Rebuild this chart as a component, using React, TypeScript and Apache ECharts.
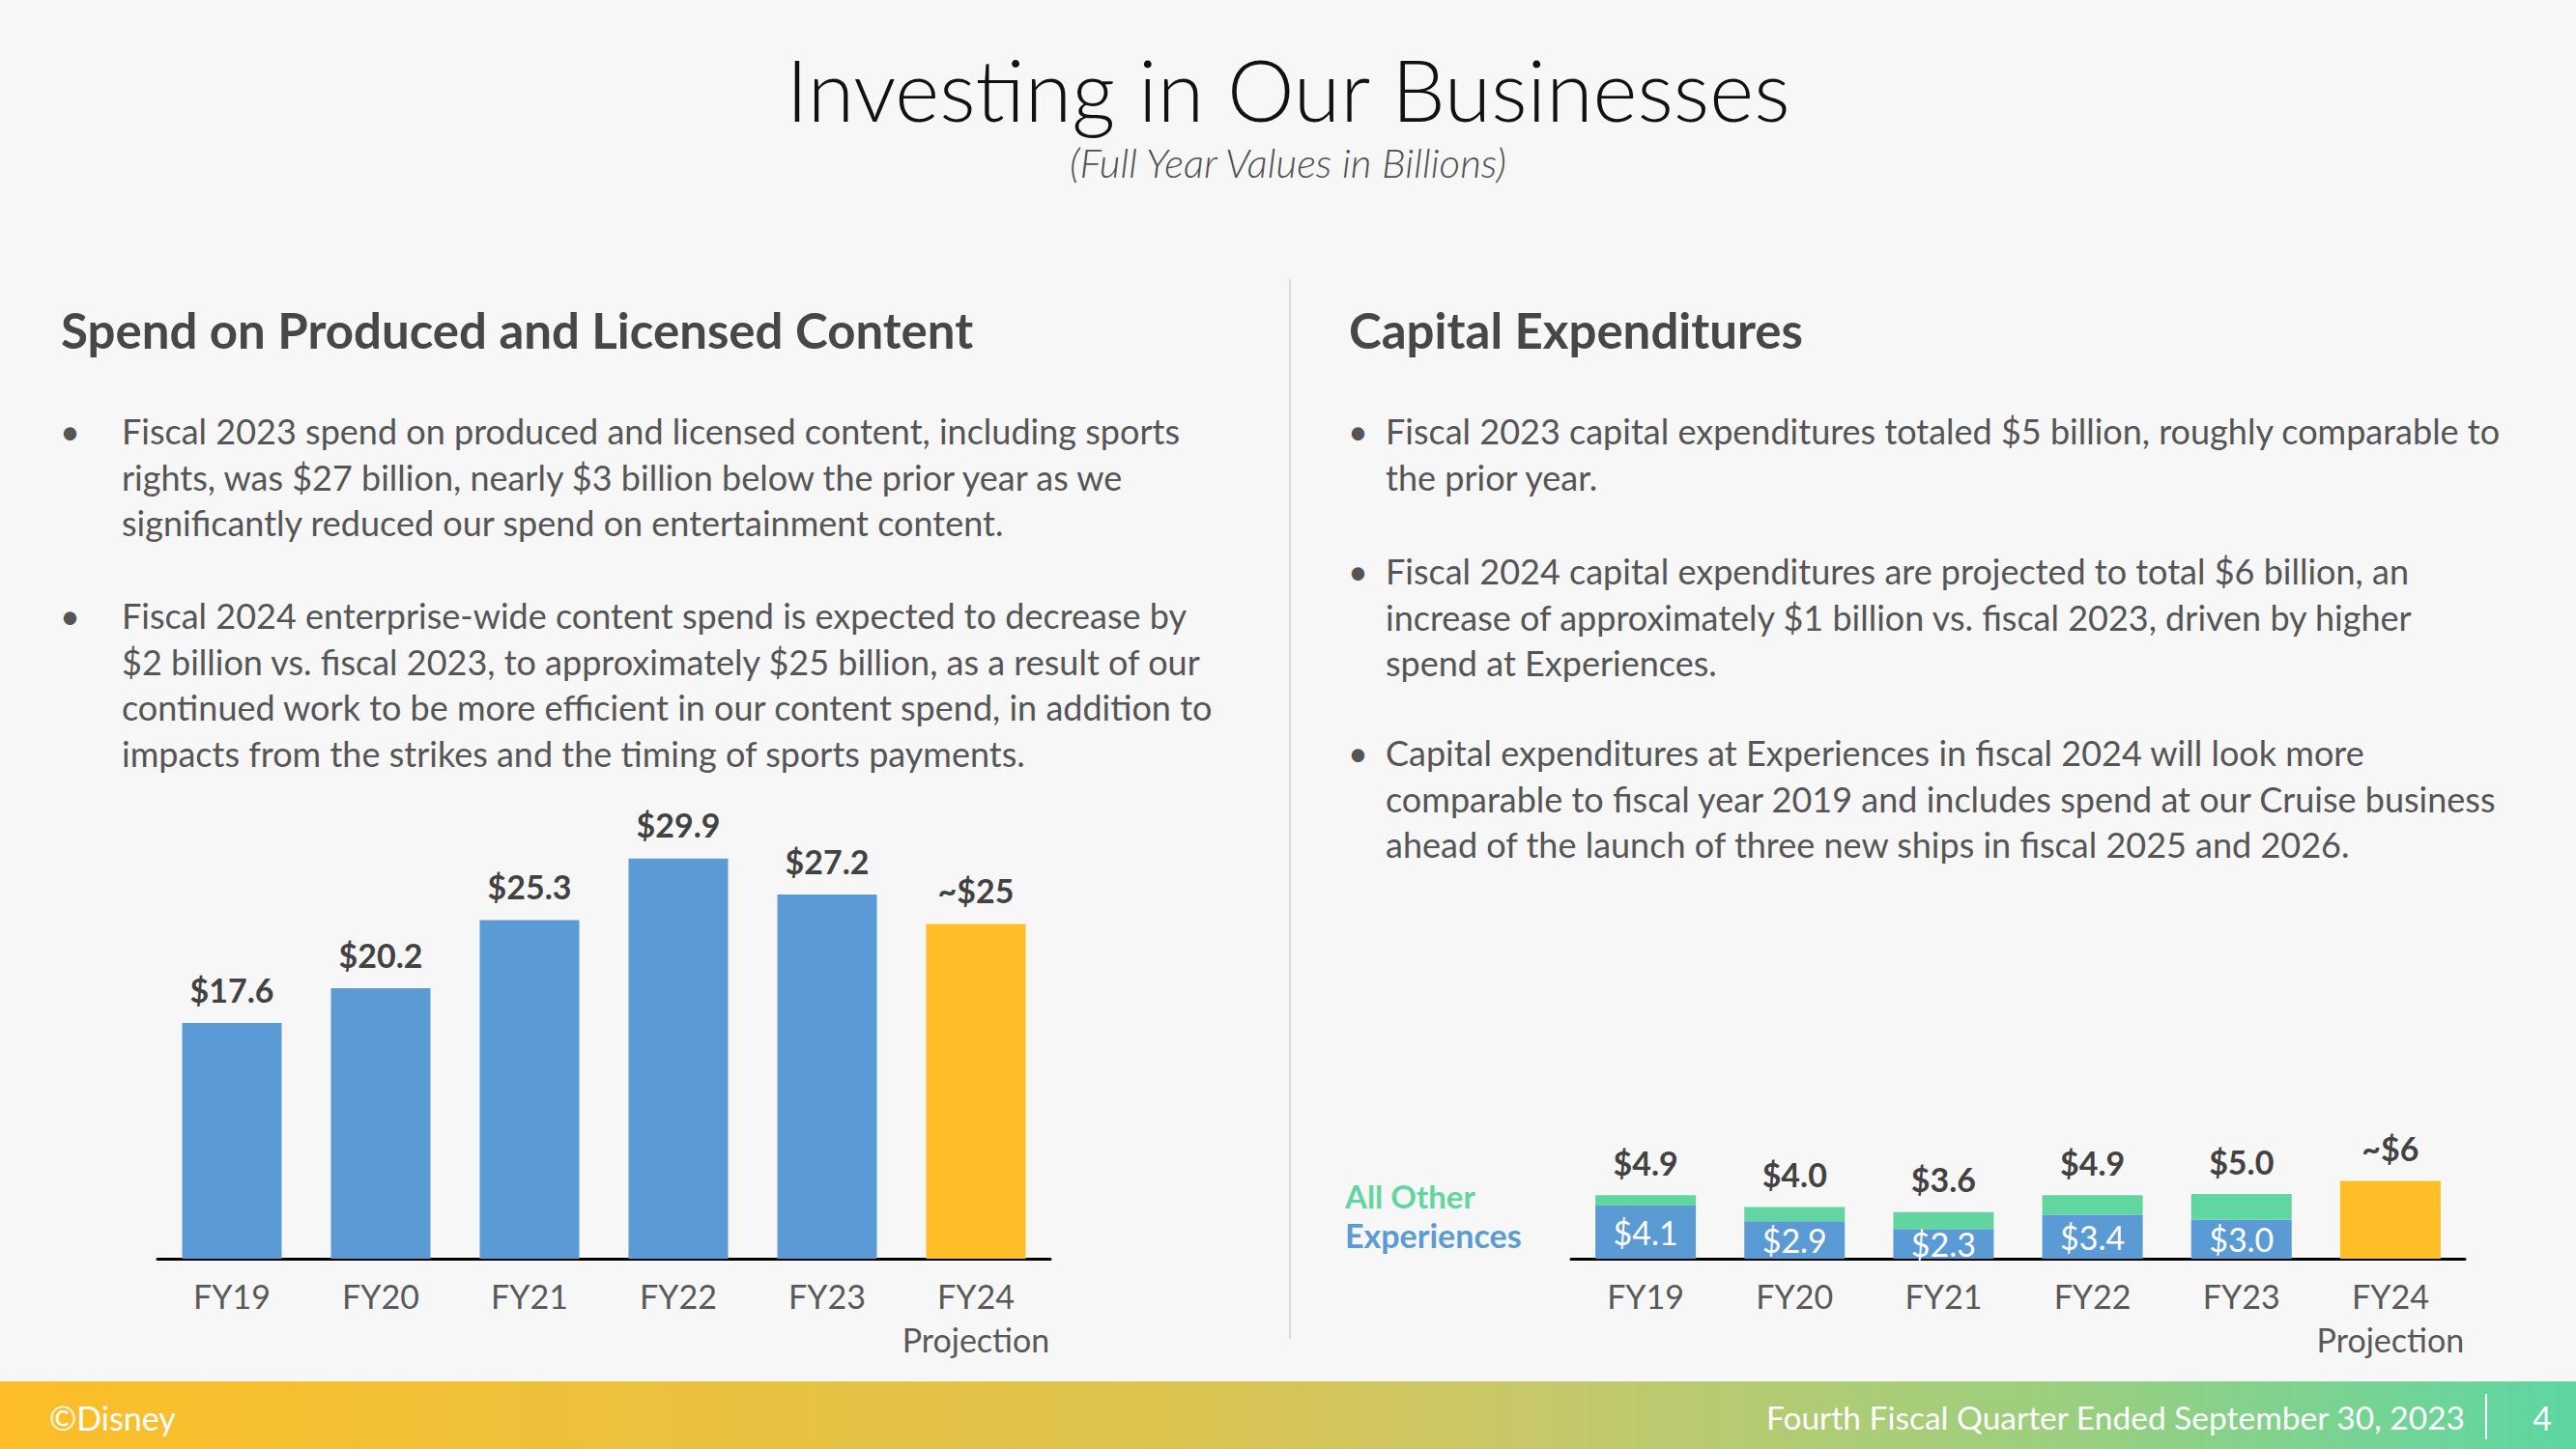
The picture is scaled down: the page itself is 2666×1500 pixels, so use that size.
import React, { useEffect, useRef } from "react";
import * as echarts from "echarts";

// ---------- data ----------
const categories = ["FY19", "FY20", "FY21", "FY22", "FY23", "FY24"];
const projectionCategory = "FY24";
const projectionNote = "Projection";

const contentSpend = [17.6, 20.2, 25.3, 29.9, 27.2, 25];
const contentLabels = ["$17.6", "$20.2", "$25.3", "$29.9", "$27.2", "~$25"];

const capexExperiences = [4.1, 2.9, 2.3, 3.4, 3.0, null];
const capexAllOther = [0.8, 1.1, 1.3, 1.5, 2.0, null];
const capexTotalLabels = ["$4.9", "$4.0", "$3.6", "$4.9", "$5.0", ""];
const capexProjection = [null, null, null, null, null, 6];
const capexProjectionLabel = "~$6";

const title = "Investing in Our Businesses";
const subtitle = "(Full Year Values in Billions)";
const leftHeading = "Spend on Produced and Licensed Content";
const rightHeading = "Capital Expenditures";
const leftBullets = [
  [
    "Fiscal 2023 spend on produced and licensed content, including sports",
    "rights, was $27 billion, nearly $3 billion below the prior year as we",
    "significantly reduced our spend on entertainment content.",
  ],
  [
    "Fiscal 2024 enterprise-wide content spend is expected to decrease by",
    "$2 billion vs. fiscal 2023, to approximately $25 billion, as a result of our",
    "continued work to be more efficient in our content spend, in addition to",
    "impacts from the strikes and the timing of sports payments.",
  ],
];
const rightBullets = [
  [
    "Fiscal 2023 capital expenditures totaled $5 billion, roughly comparable to",
    "the prior year.",
  ],
  [
    "Fiscal 2024 capital expenditures are projected to total $6 billion, an",
    "increase of approximately $1 billion vs. fiscal 2023, driven by higher",
    "spend at Experiences.",
  ],
  [
    "Capital expenditures at Experiences in fiscal 2024 will look more",
    "comparable to fiscal year 2019 and includes spend at our Cruise business",
    "ahead of the launch of three new ships in fiscal 2025 and 2026.",
  ],
];
const legendAllOther = "All Other";
const legendExperiences = "Experiences";
const footerLeft = "©Disney";
const footerRight = "Fourth Fiscal Quarter Ended September 30, 2023";
const pageNumber = "4";

// ---------- styles ----------
const FONT = "Lato, 'Open Sans', sans-serif";
const BLUE = "#5B9BD5";
const YELLOW = "#FDBE27";
const GREEN = "#62D6A0";
const TEXT = "#555555";
const DARK = "#424242";

export default function App() {
  const ref = useRef<HTMLDivElement>(null);

  useEffect(() => {
    document.body.style.margin = "0";
    if (!ref.current) return;
    const chart = echarts.init(ref.current, undefined, { renderer: "svg" });

    const lineH = 47.5;
    const bulletTexts: any[] = [];
    const addBullets = (groups: string[][], starts: number[], bx: number, tx: number) => {
      groups.forEach((lines, i) => {
        bulletTexts.push({
          type: "text",
          style: {
            x: bx,
            y: starts[i],
            text: "•",
            font: `36px ${FONT}`,
            fill: TEXT,
            verticalAlign: "middle",
          },
        });
        bulletTexts.push({
          type: "text",
          style: {
            x: tx,
            y: starts[i] - lineH / 2,
            text: lines.join("\n"),
            font: `36px ${FONT}`,
            lineHeight: lineH,
            fill: TEXT,
            verticalAlign: "top",
          },
        });
      });
    };
    addBullets(leftBullets, [446, 637], 62, 126);
    addBullets(rightBullets, [446, 591, 779], 1395, 1434);

    const axisLabel = {
      fontSize: 34,
      fontFamily: FONT,
      color: "#595959",
      lineHeight: 45,
      margin: 16,
      interval: 0,
      formatter: (v: string) => (v === projectionCategory ? `${v}\n${projectionNote}` : v),
    };
    const axisLine = { show: true, lineStyle: { color: "#000000", width: 3 } };

    const option: any = {
      animation: false,
      backgroundColor: "#F7F7F7",
      grid: [
        { left: 163, width: 924, top: 818, bottom: 197 },
        { left: 1626, width: 925, top: 1169, bottom: 197 },
      ],
      xAxis: [
        {
          type: "category",
          gridIndex: 0,
          data: categories,
          axisLine,
          axisTick: { show: false },
          axisLabel,
        },
        {
          type: "category",
          gridIndex: 1,
          data: categories,
          axisLine,
          axisTick: { show: false },
          axisLabel,
        },
      ],
      yAxis: [
        { type: "value", gridIndex: 0, min: 0, max: 35, show: false, splitLine: { show: false } },
        { type: "value", gridIndex: 1, min: 0, max: 10, show: false, splitLine: { show: false } },
      ],
      series: [
        {
          type: "bar",
          xAxisIndex: 0,
          yAxisIndex: 0,
          barWidth: 103,
          data: contentSpend.map((v, i) => ({
            value: v,
            itemStyle: { color: categories[i] === projectionCategory ? YELLOW : BLUE },
          })),
          label: {
            show: true,
            position: "top",
            distance: 18,
            fontSize: 34,
            fontWeight: "bold",
            fontFamily: FONT,
            color: DARK,
            formatter: (p: any) => contentLabels[p.dataIndex],
          },
        },
        {
          type: "bar",
          name: legendExperiences,
          xAxisIndex: 1,
          yAxisIndex: 1,
          stack: "capex",
          barWidth: 104,
          data: capexExperiences,
          itemStyle: { color: BLUE },
          label: {
            show: true,
            position: "inside",
            fontSize: 34,
            fontFamily: FONT,
            color: "#FFFFFF",
            formatter: (p: any) => "$" + Number(p.value).toFixed(1),
          },
        },
        {
          type: "bar",
          name: legendAllOther,
          xAxisIndex: 1,
          yAxisIndex: 1,
          stack: "capex",
          barWidth: 104,
          data: capexAllOther,
          itemStyle: { color: GREEN },
          label: {
            show: true,
            position: "top",
            distance: 17,
            fontSize: 34,
            fontWeight: "bold",
            fontFamily: FONT,
            color: DARK,
            formatter: (p: any) => capexTotalLabels[p.dataIndex],
          },
        },
        {
          type: "bar",
          name: "Projection",
          xAxisIndex: 1,
          yAxisIndex: 1,
          stack: "capex",
          barWidth: 104,
          data: capexProjection,
          itemStyle: { color: YELLOW },
          label: {
            show: true,
            position: "top",
            distance: 17,
            fontSize: 34,
            fontWeight: "bold",
            fontFamily: FONT,
            color: DARK,
            formatter: () => capexProjectionLabel,
          },
        },
      ],
      graphic: [
        {
          type: "text",
          style: {
            x: 1333,
            y: 92,
            text: title,
            font: `300 88px ${FONT}`,
            fill: "#111111",
            align: "center",
            verticalAlign: "middle",
          },
        },
        {
          type: "text",
          style: {
            x: 1333,
            y: 168,
            text: subtitle,
            font: `italic 300 42px ${FONT}`,
            fill: "#505050",
            align: "center",
            verticalAlign: "middle",
          },
        },
        {
          type: "text",
          style: {
            x: 63,
            y: 341,
            text: leftHeading,
            font: `bold 51px ${FONT}`,
            fill: "#474747",
            verticalAlign: "middle",
          },
        },
        {
          type: "text",
          style: {
            x: 1396,
            y: 341,
            text: rightHeading,
            font: `bold 51px ${FONT}`,
            fill: "#474747",
            verticalAlign: "middle",
          },
        },
        ...bulletTexts,
        {
          type: "line",
          shape: { x1: 1335, y1: 289, x2: 1335, y2: 1386 },
          style: { stroke: "#DADADA", lineWidth: 2 },
        },
        {
          type: "text",
          style: {
            x: 1392,
            y: 1238,
            text: legendAllOther,
            font: `bold 33px ${FONT}`,
            fill: GREEN,
            verticalAlign: "middle",
          },
        },
        {
          type: "text",
          style: {
            x: 1392,
            y: 1278,
            text: legendExperiences,
            font: `bold 34px ${FONT}`,
            fill: BLUE,
            verticalAlign: "middle",
          },
        },
        {
          type: "rect",
          shape: { x: 0, y: 1430, width: 2666, height: 70 },
          style: {
            fill: new echarts.graphic.LinearGradient(0, 0, 1, 0, [
              { offset: 0, color: "#FDBE28" },
              { offset: 0.45, color: "#DDC34E" },
              { offset: 0.6, color: "#C6C86A" },
              { offset: 0.8, color: "#9BCF7E" },
              { offset: 1, color: "#5DD6A3" },
            ]),
          },
        },
        {
          type: "text",
          style: {
            x: 51,
            y: 1467,
            text: footerLeft,
            font: `34px ${FONT}`,
            fill: "#FFFFFF",
            verticalAlign: "middle",
          },
        },
        {
          type: "text",
          style: {
            x: 2551,
            y: 1467,
            text: footerRight,
            font: `33.5px ${FONT}`,
            fill: "#FFFFFF",
            align: "right",
            verticalAlign: "middle",
          },
        },
        {
          type: "line",
          shape: { x1: 2573, y1: 1443, x2: 2573, y2: 1490 },
          style: { stroke: "#FFFFFF", lineWidth: 2 },
        },
        {
          type: "text",
          style: {
            x: 2631,
            y: 1467,
            text: pageNumber,
            font: `34px ${FONT}`,
            fill: "#FFFFFF",
            align: "center",
            verticalAlign: "middle",
          },
        },
      ],
    };

    chart.setOption(option);
    return () => chart.dispose();
  }, []);

  return <div ref={ref} style={{ width: 2666, height: 1500 }} />;
}
